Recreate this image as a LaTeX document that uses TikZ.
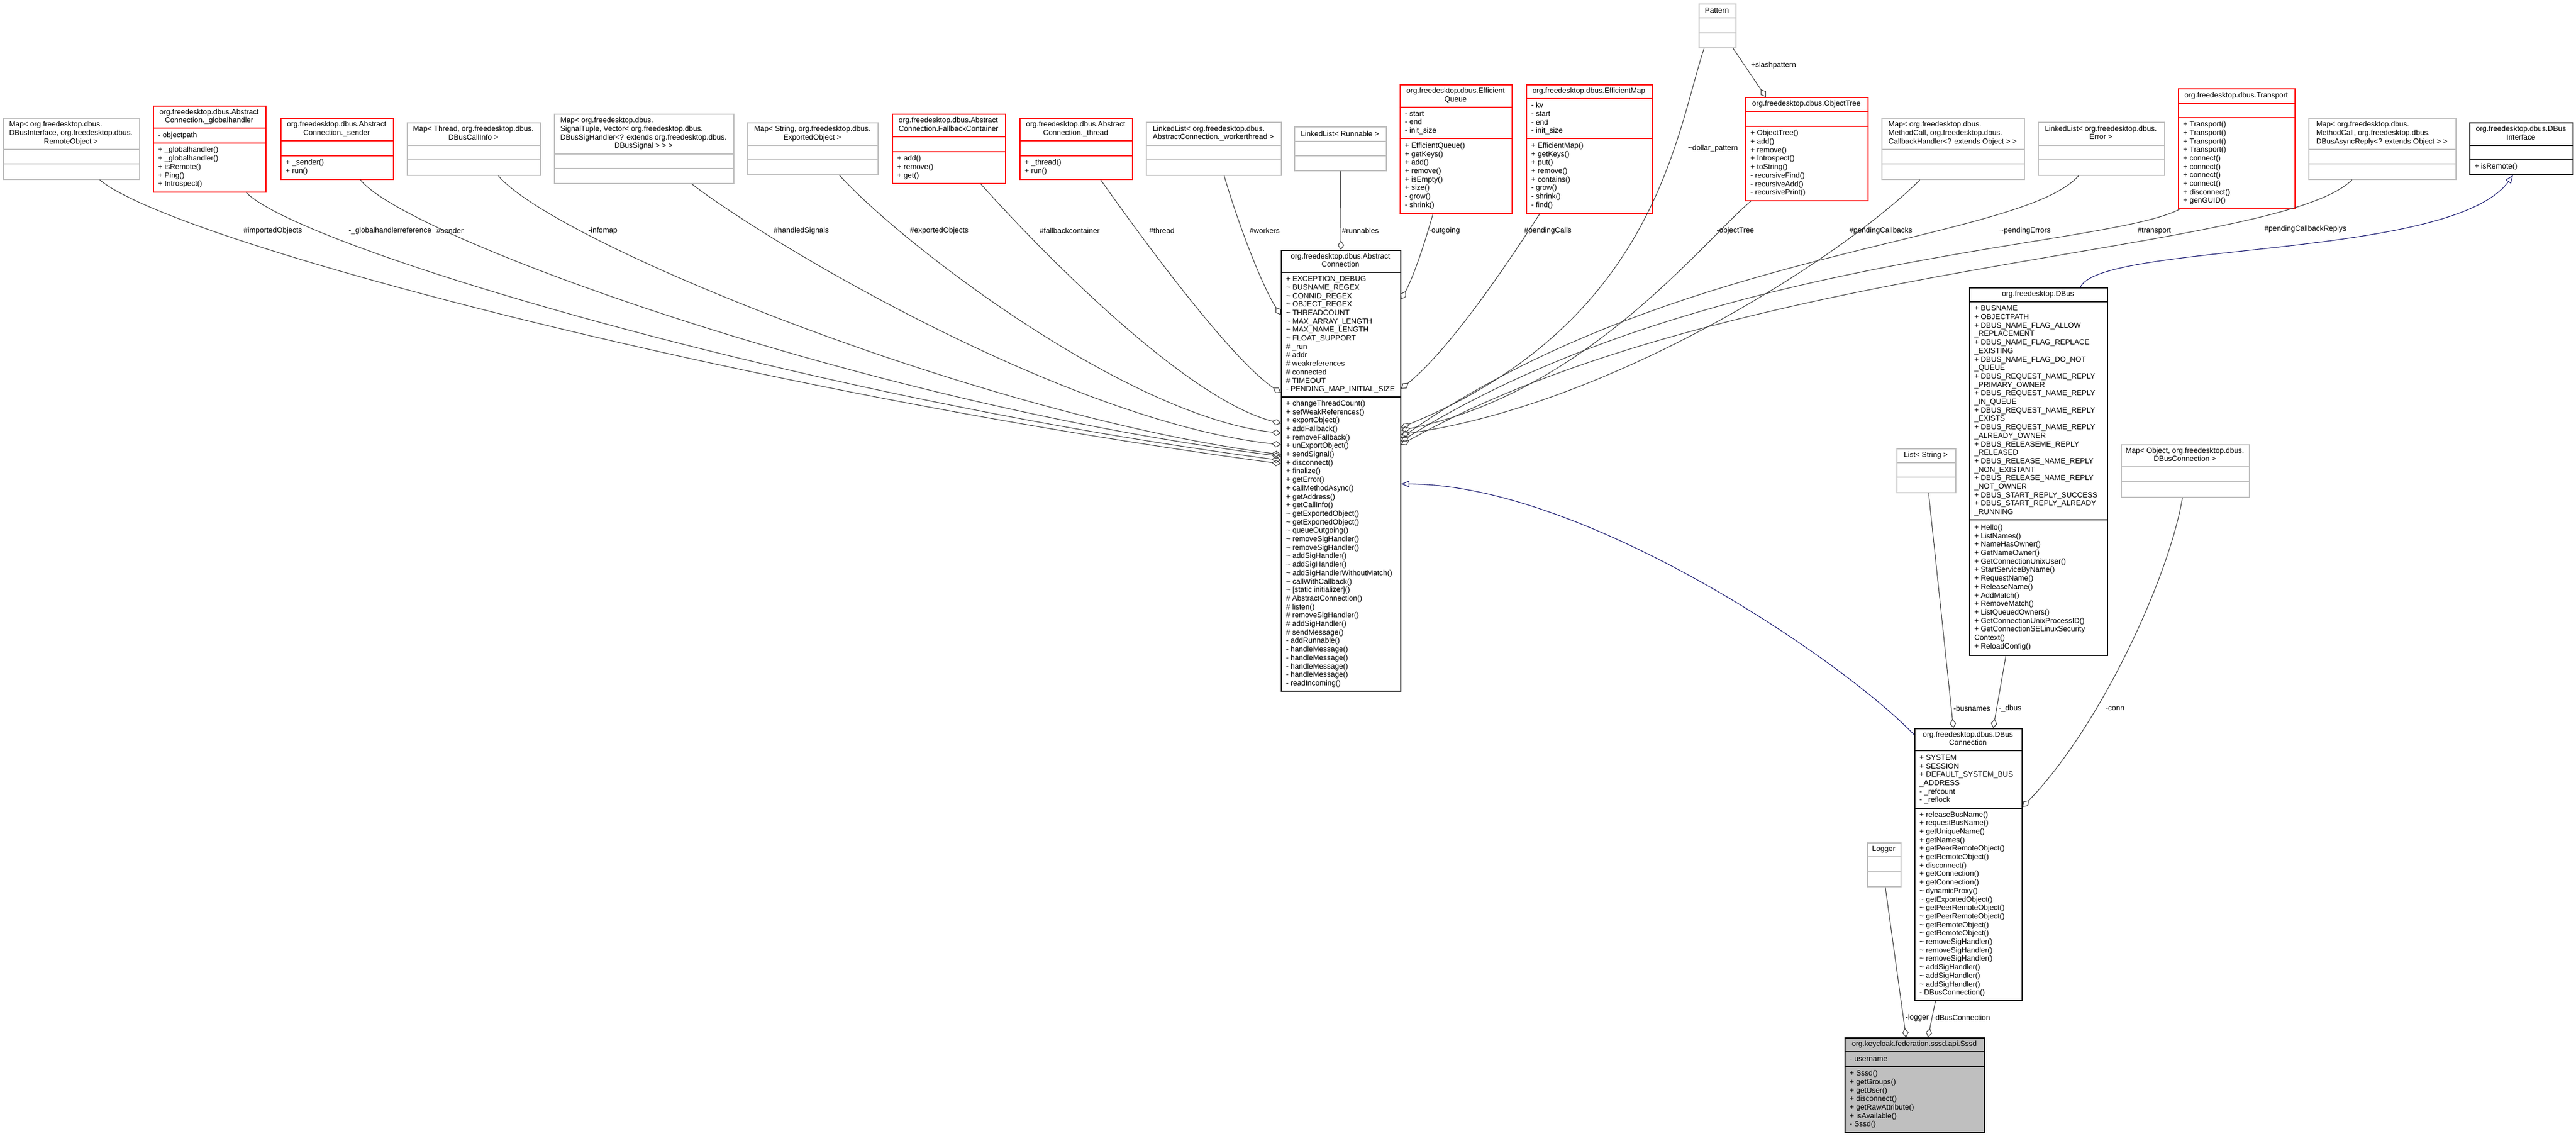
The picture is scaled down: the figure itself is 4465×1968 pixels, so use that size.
\documentclass[tikz,border=0pt]{standalone}
\usepackage{fontspec}
\setmainfont{Liberation Sans}
\usetikzlibrary{arrows.meta}

\definecolor{boxgray}{HTML}{BFBFBF}
\definecolor{edgegray}{HTML}{404040}
\definecolor{inhblue}{HTML}{191970}

\tikzset{
  grayclass/.style={draw=boxgray, fill=white, line width=1.6pt},
  redclass/.style={draw=red, fill=white, line width=1.6pt},
  blackclass/.style={draw=black, fill=white, line width=1.6pt},
  mainclass/.style={draw=black, fill=boxgray, line width=1.6pt},
  boxtitle/.style={inner sep=0pt, align=center},
  members/.style={anchor=west, align=left, inner sep=0pt},
  rolelabel/.style={inner sep=0pt},
  agg/.style={draw=edgegray, line width=1.1pt, -{Diamond[open, length=16pt, width=11pt]}},
  inh/.style={draw=inhblue, line width=1.1pt, -{Triangle[open, length=14pt, width=11pt]}},
}

% visibility sign for package members
\newcommand{\vpkg}{\textasciitilde}
% wrapped class titles: lines left, last one centred
\newcommand{\ttl}[1]{\begin{tabular}{@{}l@{}}#1\end{tabular}}
\newcommand{\cln}[1]{\multicolumn{1}{@{}c@{}}{#1}}
% class box: style, name, x, y, width, title/attr/method heights, title
\newcommand{\umlbox}[9]{%
  \node[#1, anchor=north west, minimum width=#5, minimum height=#6+#7+#8] (#2) at (#3,#4) {};
  \draw[#1, fill=none] (#3,#4+#6) -- ++(#5,0) (#3,#4+#6+#7) -- ++(#5,0);
  \node[boxtitle] (#2-t) at (#3+#5/2,#4+#6/2) {#9};
  \coordinate (#2-a) at (#3+9,#4+#6+#7/2);
  \coordinate (#2-m) at (#3+9,#4+#6+#7+#8/2);
}

\begin{document}
\begin{tikzpicture}[x=1pt, y=-1pt, font=\fontsize{12.9}{14.7}\selectfont]
  \path[use as bounding box, fill=white] (0,0) rectangle (4465,1968);

  % Member types, top row
  \umlbox{grayclass}{mapRemote}{5}{204}{236}{55}{25}{26}{\ttl{Map< org.freedesktop.dbus.\\DBusInterface, org.freedesktop.dbus.\\\cln{RemoteObject >}}}
  \umlbox{redclass}{globalh}{265}{183}{195}{39}{26}{84}{\ttl{org.freedesktop.dbus.Abstract\\\cln{Connection.\_globalhandler}}}
  \node[members] (globalh-ma) at (globalh-a) {- objectpath};
  \node[members] (globalh-mm) at (globalh-m) {+ \_globalhandler()\\+ \_globalhandler()\\+ isRemote()\\+ Ping()\\+ Introspect()};
  \umlbox{redclass}{sender}{486}{204}{195}{40}{26}{40}{\ttl{org.freedesktop.dbus.Abstract\\\cln{Connection.\_sender}}}
  \node[members] (sender-mm) at (sender-m) {+ \_sender()\\+ run()};
  \umlbox{grayclass}{mapThread}{705}{212}{231}{40}{25}{26}{\ttl{Map< Thread, org.freedesktop.dbus.\\\cln{DBusCallInfo >}}}
  \umlbox{grayclass}{mapSignals}{960}{197}{311}{70}{25}{25}{\ttl{Map< org.freedesktop.dbus.\\SignalTuple, Vector< org.freedesktop.dbus.\\DBusSigHandler<? extends org.freedesktop.dbus.\\\cln{DBusSignal > > >}}}
  \umlbox{grayclass}{mapExported}{1295}{212}{226}{40}{25}{25}{\ttl{Map< String, org.freedesktop.dbus.\\\cln{ExportedObject >}}}
  \umlbox{redclass}{fallback}{1546}{197}{196}{40}{26}{54}{\ttl{org.freedesktop.dbus.Abstract\\\cln{Connection.FallbackContainer}}}
  \node[members] (fallback-mm) at (fallback-m) {+ add()\\+ remove()\\+ get()};
  \umlbox{redclass}{thread}{1767}{204}{195}{40}{26}{40}{\ttl{org.freedesktop.dbus.Abstract\\\cln{Connection.\_thread}}}
  \node[members] (thread-mm) at (thread-m) {+ \_thread()\\+ run()};
  \umlbox{grayclass}{workers}{1986}{211}{234}{41}{25}{26}{\ttl{LinkedList< org.freedesktop.dbus.\\\cln{AbstractConnection.\_workerthread >}}}
  \umlbox{grayclass}{runnables}{2243}{219}{159}{26}{25}{25}{LinkedList< Runnable >}
  \umlbox{redclass}{equeue}{2426}{146}{194}{40}{54}{129}{\ttl{org.freedesktop.dbus.Efficient\\\cln{Queue}}}
  \node[members] (equeue-ma) at (equeue-a) {- start\\- end\\- init\_size};
  \node[members] (equeue-mm) at (equeue-m) {+ EfficientQueue()\\+ getKeys()\\+ add()\\+ remove()\\+ isEmpty()\\+ size()\\- grow()\\- shrink()};
  \umlbox{redclass}{emap}{2645}{146}{218}{25}{69}{129}{org.freedesktop.dbus.EfficientMap}
  \node[members] (emap-ma) at (emap-a) {- kv\\- start\\- end\\- init\_size};
  \node[members] (emap-mm) at (emap-m) {+ EfficientMap()\\+ getKeys()\\+ put()\\+ remove()\\+ contains()\\- grow()\\- shrink()\\- find()};
  \umlbox{grayclass}{pattern}{2944}{6}{64}{25}{26}{25}{Pattern}
  \umlbox{redclass}{otree}{3025}{168}{212}{25}{26}{128}{org.freedesktop.dbus.ObjectTree}
  \node[members] (otree-mm) at (otree-m) {+ ObjectTree()\\+ add()\\+ remove()\\+ Introspect()\\+ toString()\\- recursiveFind()\\- recursiveAdd()\\- recursivePrint()};
  \umlbox{grayclass}{mapCallbacks}{3261}{204}{247}{55}{25}{26}{\ttl{Map< org.freedesktop.dbus.\\MethodCall, org.freedesktop.dbus.\\CallbackHandler<? extends Object > >}}
  \umlbox{grayclass}{errors}{3532}{211}{219}{41}{25}{26}{\ttl{LinkedList< org.freedesktop.dbus.\\\cln{Error >}}}
  \umlbox{redclass}{transport}{3775}{153}{202}{26}{25}{157}{org.freedesktop.dbus.Transport}
  \node[members] (transport-mm) at (transport-m) {+ Transport()\\+ Transport()\\+ Transport()\\+ Transport()\\+ connect()\\+ connect()\\+ connect()\\+ connect()\\+ disconnect()\\+ genGUID()};
  \umlbox{grayclass}{mapAsync}{4001}{204}{255}{55}{25}{26}{\ttl{Map< org.freedesktop.dbus.\\MethodCall, org.freedesktop.dbus.\\DBusAsyncReply<? extends Object > >}}
  \umlbox{blackclass}{dbusIface}{4280}{212}{179}{40}{25}{25}{\ttl{org.freedesktop.dbus.DBus\\\cln{Interface}}}
  \node[members] (dbusIface-mm) at (dbusIface-m) {+ isRemote()};

  % AbstractConnection
  \umlbox{blackclass}{absConn}{2220}{433}{207}{39}{216}{509}{\ttl{org.freedesktop.dbus.Abstract\\\cln{Connection}}}
  \node[members] (absConn-ma) at (absConn-a) {+ EXCEPTION\_DEBUG\\\vpkg{} BUSNAME\_REGEX\\\vpkg{} CONNID\_REGEX\\\vpkg{} OBJECT\_REGEX\\\vpkg{} THREADCOUNT\\\vpkg{} MAX\_ARRAY\_LENGTH\\\vpkg{} MAX\_NAME\_LENGTH\\\vpkg{} FLOAT\_SUPPORT\\\# \_run\\\# addr\\\# weakreferences\\\# connected\\\# TIMEOUT\\- PENDING\_MAP\_INITIAL\_SIZE};
  \node[members] (absConn-mm) at (absConn-m) {+ changeThreadCount()\\+ setWeakReferences()\\+ exportObject()\\+ addFallback()\\+ removeFallback()\\+ unExportObject()\\+ sendSignal()\\+ disconnect()\\+ finalize()\\+ getError()\\+ callMethodAsync()\\+ getAddress()\\+ getCallInfo()\\\vpkg{} getExportedObject()\\\vpkg{} getExportedObject()\\\vpkg{} queueOutgoing()\\\vpkg{} removeSigHandler()\\\vpkg{} removeSigHandler()\\\vpkg{} addSigHandler()\\\vpkg{} addSigHandler()\\\vpkg{} addSigHandlerWithoutMatch()\\\vpkg{} callWithCallback()\\\vpkg{} [static initializer]()\\\# AbstractConnection()\\\# listen()\\\# removeSigHandler()\\\# addSigHandler()\\\# sendMessage()\\- addRunnable()\\- handleMessage()\\- handleMessage()\\- handleMessage()\\- handleMessage()\\- readIncoming()};

  % DBus
  \umlbox{blackclass}{dbus}{3413}{498}{239}{25}{378}{234}{org.freedesktop.DBus}
  \node[members] (dbus-ma) at (dbus-a) {+ BUSNAME\\+ OBJECTPATH\\+ DBUS\_NAME\_FLAG\_ALLOW\\\_REPLACEMENT\\+ DBUS\_NAME\_FLAG\_REPLACE\\\_EXISTING\\+ DBUS\_NAME\_FLAG\_DO\_NOT\\\_QUEUE\\+ DBUS\_REQUEST\_NAME\_REPLY\\\_PRIMARY\_OWNER\\+ DBUS\_REQUEST\_NAME\_REPLY\\\_IN\_QUEUE\\+ DBUS\_REQUEST\_NAME\_REPLY\\\_EXISTS\\+ DBUS\_REQUEST\_NAME\_REPLY\\\_ALREADY\_OWNER\\+ DBUS\_RELEASEME\_REPLY\\\_RELEASED\\+ DBUS\_RELEASE\_NAME\_REPLY\\\_NON\_EXISTANT\\+ DBUS\_RELEASE\_NAME\_REPLY\\\_NOT\_OWNER\\+ DBUS\_START\_REPLY\_SUCCESS\\+ DBUS\_START\_REPLY\_ALREADY\\\_RUNNING};
  \node[members] (dbus-mm) at (dbus-m) {+ Hello()\\+ ListNames()\\+ NameHasOwner()\\+ GetNameOwner()\\+ GetConnectionUnixUser()\\+ StartServiceByName()\\+ RequestName()\\+ ReleaseName()\\+ AddMatch()\\+ RemoveMatch()\\+ ListQueuedOwners()\\+ GetConnectionUnixProcessID()\\+ GetConnectionSELinuxSecurity\\Context()\\+ ReloadConfig()};

  \umlbox{grayclass}{strList}{3287}{777}{102}{25}{25}{26}{List< String >}
  \umlbox{grayclass}{connMap}{3676}{770}{222}{39}{26}{26}{\ttl{Map< Object, org.freedesktop.dbus.\\\cln{DBusConnection >}}}
  \umlbox{grayclass}{logger}{3236}{1460}{58}{25}{25}{26}{Logger}

  % DBusConnection
  \umlbox{blackclass}{dbusConn}{3318}{1262}{186}{39}{100}{332}{\ttl{org.freedesktop.dbus.DBus\\\cln{Connection}}}
  \node[members] (dbusConn-ma) at (dbusConn-a) {+ SYSTEM\\+ SESSION\\+ DEFAULT\_SYSTEM\_BUS\\\_ADDRESS\\- \_refcount\\- \_reflock};
  \node[members] (dbusConn-mm) at (dbusConn-m) {+ releaseBusName()\\+ requestBusName()\\+ getUniqueName()\\+ getNames()\\+ getPeerRemoteObject()\\+ getRemoteObject()\\+ disconnect()\\+ getConnection()\\+ getConnection()\\\vpkg{} dynamicProxy()\\\vpkg{} getExportedObject()\\\vpkg{} getPeerRemoteObject()\\\vpkg{} getPeerRemoteObject()\\\vpkg{} getRemoteObject()\\\vpkg{} getRemoteObject()\\\vpkg{} removeSigHandler()\\\vpkg{} removeSigHandler()\\\vpkg{} removeSigHandler()\\\vpkg{} addSigHandler()\\\vpkg{} addSigHandler()\\\vpkg{} addSigHandler()\\- DBusConnection()};

  % Sssd
  \umlbox{mainclass}{sssd}{3197}{1798}{242}{25}{26}{113}{org.keycloak.federation.sssd.api.Sssd}
  \node[members] (sssd-ma) at (sssd-a) {- username};
  \node[members] (sssd-mm) at (sssd-m) {+ Sssd()\\+ getGroups()\\+ getUser()\\+ disconnect()\\+ getRawAttribute()\\+ isAvailable()\\- Sssd()};

  % Aggregations into AbstractConnection, left side
  \draw[agg] ([xshift=49]mapRemote.south) .. controls (300,420) and (1300,680) .. ([yshift=12]absConn.west);
  \draw[agg] ([xshift=63.5]globalh.south) .. controls (520,430) and (1400,690) .. ([yshift=18]absConn.west);
  \draw[agg] ([xshift=40.5]sender.south) .. controls (700,410) and (1500,700) .. ([yshift=25]absConn.west);
  \draw[agg] ([xshift=42.5]mapThread.south) .. controls (960,420) and (1700,720) .. ([yshift=28]absConn.west);
  \draw[agg] ([xshift=82.5]mapSignals.south) .. controls (1330,420) and (1850,730) .. ([yshift=45]absConn.west);
  \draw[agg] ([xshift=46]mapExported.south) .. controls (1560,420) and (1950,720) .. ([yshift=65]absConn.west);
  \draw[agg] ([xshift=55]fallback.south) .. controls (1790,420) and (2050,690) .. ([yshift=82]absConn.west);
  \draw[agg] ([xshift=42.5]thread.south) .. controls (1970,400) and (2130,620) .. ([yshift=135]absConn.west);
  \draw[agg] ([xshift=18]workers.south) .. controls (2150,400) and (2190,500) .. ([yshift=270]absConn.west);
  \draw[agg] (runnables.south) -- (absConn.north);

  % Aggregations into AbstractConnection, right side
  \draw[agg] ([xshift=-40]equeue.south) .. controls (2470,420) and (2450,480) .. ([yshift=297]absConn.east);
  \draw[agg] ([xshift=-86]emap.south) .. controls (2630,430) and (2520,600) .. ([yshift=142]absConn.east);
  \draw[agg] ([xshift=-23]pattern.south) .. controls (2905,230) and (2870,560) .. ([yshift=75]absConn.east);
  \draw[agg] ([xshift=-97]otree.south) .. controls (2950,420) and (2750,680) .. ([yshift=70]absConn.east);
  \draw[agg] ([xshift=-57.5]mapCallbacks.south) .. controls (3200,440) and (2800,700) .. ([yshift=63]absConn.east);
  \draw[agg] ([xshift=-39.5]errors.south) .. controls (3500,420) and (2900,430) .. ([yshift=57]absConn.east);
  \draw[agg] ([xshift=3]transport.south west) .. controls (3650,430) and (2950,440) .. ([yshift=51]absConn.east);
  \draw[agg] ([xshift=-52.5]mapAsync.south) .. controls (3950,440) and (3000,450) .. ([yshift=45]absConn.east);
  \draw[agg] ([xshift=27]pattern.south) -- ([xshift=-71]otree.north);

  % Inheritance
  \draw[inh] ([yshift=224.5]dbusConn.west) .. controls (3200,1150) and (2750,840) .. ([yshift=-23]absConn.east);
  \draw[inh] ([xshift=72.5]dbus.north) .. controls (3640,420) and (4250,450) .. ([xshift=-14.5]dbusIface.south);

  % Lower part
  \draw[agg] ([xshift=4]strList.south) -- ([xshift=-26]dbusConn.north);
  \draw[agg] ([xshift=-56.5]dbus.south) -- ([xshift=43]dbusConn.north);
  \draw[agg] ([xshift=-5]connMap.south) .. controls (3760,1000) and (3640,1260) .. ([yshift=99.5]dbusConn.east);
  \draw[agg] ([xshift=2]logger.south) -- ([xshift=-15]sssd.north);
  \draw[agg] ([xshift=-57]dbusConn.south) -- ([xshift=23]sssd.north);

  % Role labels
  \foreach \lbl/\px/\txt in {lImported/473/\#importedObjects, lGlobal/676/-\_globalhandlerreference,
      lSender/780/\#sender, lInfomap/1045/-infomap, lHandled/1389/\#handledSignals,
      lExported/1628/\#exportedObjects, lFallback/1854/\#fallbackcontainer, lThread/2014/\#thread,
      lWorkers/2192/\#workers, lRunnables/2358/\#runnables, lOutgoing/2502/\vpkg outgoing,
      lCalls/2683/\#pendingCalls, lTree/3008/-objectTree, lCallbacks/3260/\#pendingCallbacks,
      lErrors/3510/\vpkg pendingErrors, lTransport/3734/\#transport}
    \node[rolelabel] (\lbl) at (\px,400) {\txt};
  \node[rolelabel] (lDollar) at (2969,257) {\vpkg dollar\_pattern};
  \node[rolelabel] (lSlash) at (3074,113) {+slashpattern};
  \node[rolelabel] (lReplys) at (3996,397) {\#pendingCallbackReplys};
  \node[rolelabel] (lBusnames) at (3418,1228) {-busnames};
  \node[rolelabel] (lDbus) at (3484,1228) {-\_dbus};
  \node[rolelabel] (lConn) at (3666,1228) {-conn};
  \node[rolelabel] (lLogger) at (3323,1764) {-logger};
  \node[rolelabel] (lDBusConn) at (3400,1764) {-dBusConnection};
\end{tikzpicture}
\end{document}
